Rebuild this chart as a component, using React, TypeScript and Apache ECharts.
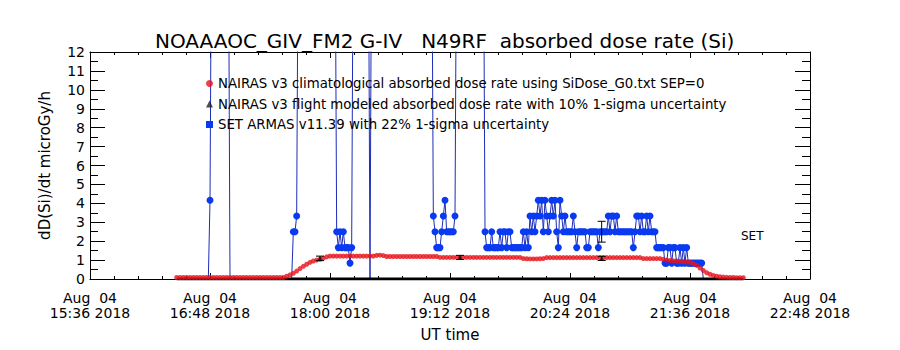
import { useEffect, useRef } from "react";
import * as echarts from "echarts";

const FONT = "DejaVu Sans";

const chartTitle = "NOAAAOC_GIV_FM2 G-IV\u00a0\u00a0\u00a0N49RF\u00a0\u00a0absorbed dose rate (Si)";
const yAxisName = "dD(Si)/dt microGy/h";
const xAxisName = "UT time";
const dateLine = "Aug\u00a0\u00a004";
const yearText = "2018";
const setLabel = "SET";

const xMinTime = "15:36";
const xMaxTime = "22:48";
const xStepMin = 72;
const yMin = 0;
const yMax = 12;
const yStep = 1;

const climName = "NAIRAS v3 climatological absorbed dose rate using SiDose_G0.txt SEP=0";
const flightName = "NAIRAS v3 flight modeled absorbed dose rate with 10% 1-sigma uncertainty";
const armasName = "SET ARMAS v11.39 with 22% 1-sigma uncertainty";

// NAIRAS climatological, sampled every 2 minutes from 16:28
const climStart = "16:28";
const climStepMin = 2;
const climDose = [
  0.08, 0.08, 0.08, 0.08, 0.08, 0.08, 0.08, 0.08, 0.08, 0.08, 0.08,
  0.08, 0.08, 0.08, 0.08, 0.08, 0.08, 0.08, 0.08, 0.08, 0.08, 0.08,
  0.08, 0.08, 0.08, 0.08, 0.08, 0.08, 0.08, 0.08, 0.08, 0.08, 0.08,
  0.15, 0.22, 0.3, 0.42, 0.55, 0.67, 0.78, 0.88, 0.95, 1.0, 1.05, 1.1, 1.17, 1.21,
  1.21, 1.21, 1.21, 1.21, 1.21, 1.21, 1.21, 1.21, 1.21, 1.21, 1.21, 1.21, 1.21,
  1.25, 1.26, 1.24,
  1.19, 1.19, 1.19, 1.19, 1.19, 1.19, 1.19, 1.19, 1.19, 1.19, 1.19, 1.19, 1.19, 1.19, 1.19, 1.19,
  1.14, 1.14, 1.14, 1.14, 1.14, 1.14, 1.14, 1.14, 1.14, 1.14, 1.14, 1.14, 1.14,
  1.14, 1.14, 1.14, 1.14, 1.14, 1.14, 1.14, 1.14, 1.14, 1.14, 1.14, 1.14,
  1.08, 1.07, 1.06, 1.06, 1.06, 1.07, 1.08,
  1.13, 1.13, 1.13, 1.13, 1.13, 1.13, 1.13, 1.13, 1.13, 1.13, 1.13, 1.13, 1.13, 1.13, 1.13,
  1.13, 1.13, 1.13, 1.13, 1.13, 1.13, 1.13, 1.13, 1.13, 1.13, 1.13, 1.13, 1.13, 1.13,
  1.08, 1.08, 1.08, 1.08, 1.08, 1.08,
  1.04, 1.0, 0.98, 0.96, 0.95, 0.93, 0.92, 0.9, 0.88, 0.82, 0.72, 0.58, 0.45, 0.33, 0.25, 0.19, 0.15, 0.12,
  0.1, 0.09, 0.08, 0.08, 0.07, 0.07, 0.07,
];

// NAIRAS flight modeled: zero along the flight, plus three evaluated points
const flightZeroSpan = ["16:28", "22:08"];
const flightZeroDose = [0, 0];
const flightTimes = ["17:54", "19:18", "20:43"];
const flightDose = [1.09, 1.14, 1.09];
const flightSigma = [0.12, 0.11, 0.11];

// SET ARMAS measurements (values above 12 run off the top of the plot)
const armas: [string, number][] = [
  ["16:47", 0], ["16:48", 4.16], ["16:49", 20], ["16:59", 20], ["17:00", 0],
  ["17:37", 0], ["17:38", 2.5], ["17:39", 2.5], ["17:40", 3.33], ["17:41", 20],
  ["18:03", 20], ["18:04", 2.5], ["18:05", 1.66], ["18:06", 2.5], ["18:07", 1.66], ["18:08", 2.5],
  ["18:09", 1.66], ["18:10", 1.66], ["18:11", 1.66], ["18:12", 0.84], ["18:13", 1.66], ["18:14", 20],
  ["18:23", 20], ["18:24", 0], ["18:25", 20],
  ["19:01", 20], ["19:02", 3.33], ["19:03", 2.5], ["19:04", 1.66], ["19:05", 1.66], ["19:06", 1.66],
  ["19:07", 2.5], ["19:08", 3.33], ["19:09", 4.16], ["19:10", 2.5], ["19:11", 2.5], ["19:12", 2.5],
  ["19:13", 2.5], ["19:14", 2.5], ["19:15", 3.33], ["19:16", 20],
  ["19:32", 20], ["19:33", 2.5], ["19:34", 1.66], ["19:35", 1.66], ["19:36", 1.66], ["19:37", 2.5],
  ["19:38", 1.66], ["19:39", 1.66], ["19:40", 1.66], ["19:41", 1.66], ["19:42", 2.5], ["19:43", 1.66],
  ["19:44", 2.5], ["19:45", 2.5], ["19:46", 1.66], ["19:47", 2.5], ["19:48", 2.5], ["19:49", 1.66],
  ["19:50", 1.66], ["19:51", 1.66], ["19:52", 1.66], ["19:53", 1.66], ["19:54", 1.66], ["19:55", 1.66],
  ["19:56", 2.5], ["19:57", 1.66], ["19:58", 2.5], ["19:59", 1.66], ["20:00", 3.33], ["20:01", 2.5],
  ["20:02", 3.33], ["20:03", 2.5], ["20:04", 3.33], ["20:05", 4.16], ["20:06", 3.33], ["20:07", 4.16],
  ["20:08", 2.5], ["20:09", 4.16], ["20:10", 3.33], ["20:11", 2.5], ["20:12", 3.33], ["20:13", 4.16],
  ["20:14", 3.33], ["20:15", 4.16], ["20:16", 2.5], ["20:17", 1.66], ["20:18", 4.16], ["20:19", 3.33],
  ["20:20", 2.5], ["20:21", 3.33], ["20:22", 2.5], ["20:23", 2.5], ["20:24", 2.5], ["20:25", 2.5],
  ["20:26", 3.33], ["20:27", 2.5], ["20:28", 1.66], ["20:29", 2.5], ["20:30", 2.5], ["20:31", 2.5],
  ["20:32", 2.5], ["20:33", 2.5], ["20:34", 1.66], ["20:35", 1.66], ["20:36", 2.5], ["20:37", 2.5],
  ["20:38", 2.5], ["20:39", 2.5], ["20:40", 2.5], ["20:41", 1.66], ["20:42", 2.5], ["20:43", 2.5],
  ["20:44", 2.5], ["20:45", 2.5], ["20:46", 2.5], ["20:47", 3.33], ["20:48", 2.5], ["20:49", 3.33],
  ["20:50", 3.33], ["20:51", 2.5], ["20:52", 3.33], ["20:53", 2.5], ["20:54", 2.5], ["20:55", 2.5],
  ["20:56", 2.5], ["20:57", 2.5], ["20:58", 2.5], ["20:59", 2.5], ["21:00", 2.5], ["21:01", 2.5],
  ["21:02", 1.66], ["21:03", 2.5], ["21:04", 3.33], ["21:05", 3.33], ["21:06", 2.5], ["21:07", 3.33],
  ["21:08", 2.5], ["21:09", 2.5], ["21:10", 3.33], ["21:11", 2.5], ["21:12", 3.33], ["21:13", 2.5],
  ["21:14", 2.5], ["21:15", 2.5], ["21:16", 1.66], ["21:17", 1.66], ["21:18", 1.66], ["21:19", 1.66],
  ["21:20", 1.66], ["21:21", 0.84], ["21:22", 0.84], ["21:23", 1.66], ["21:24", 1.66], ["21:25", 0.84],
  ["21:26", 1.66], ["21:27", 1.66], ["21:28", 0.84], ["21:29", 0.84], ["21:30", 1.66], ["21:31", 0.84],
  ["21:32", 1.66], ["21:33", 0.84], ["21:34", 1.66], ["21:35", 0.84], ["21:36", 0.84], ["21:37", 0.84],
  ["21:38", 0.84], ["21:39", 0.84], ["21:40", 0.84], ["21:41", 0.84], ["21:42", 0.84], ["21:43", 0.84],
  ["21:44", 0], ["21:56", 0],
];
const armasErrTimes = ["20:43"];
const armasErrDose = [2.5];
const armasErrSigma = [0.55];

const toMin = (s: string) => {
  const [h, m] = s.split(":").map(Number);
  return h * 60 + m;
};
const fmtTime = (v: number) => {
  const h = Math.floor(v / 60);
  const m = Math.round(v - h * 60);
  return `${String(h).padStart(2, "0")}:${String(m).padStart(2, "0")}`;
};

export default function App() {
  const ref = useRef<HTMLDivElement>(null);

  useEffect(() => {
    if (!ref.current) return;
    const chart = echarts.init(ref.current, null, { renderer: "svg" });

    const black = "#000";
    const xCommon = {
      type: "value" as const,
      min: toMin(xMinTime),
      max: toMin(xMaxTime),
      interval: xStepMin,
      axisLine: { show: true, onZero: false, lineStyle: { color: black, width: 1 } },
      axisTick: { show: true, inside: true, length: 6, lineStyle: { color: black } },
      minorTick: { show: true, splitNumber: 5, length: 3, lineStyle: { color: black } },
      splitLine: { show: false },
      minorSplitLine: { show: false },
    };
    const yCommon = {
      type: "value" as const,
      min: yMin,
      max: yMax,
      interval: yStep,
      axisLine: { show: true, lineStyle: { color: black, width: 1 } },
      axisTick: { show: true, inside: true, length: 15, lineStyle: { color: black } },
      minorTick: { show: true, splitNumber: 2, length: 8, lineStyle: { color: black } },
      splitLine: { show: false },
      minorSplitLine: { show: false },
    };

    const errRender = (params: any, api: any) => {
      const x = api.value(0);
      const v = api.value(1);
      const e = api.value(2);
      const top = api.coord([x, v + e]);
      const bot = api.coord([x, v - e]);
      const w = 4;
      const st = { stroke: black, lineWidth: 1 };
      return {
        type: "group",
        children: [
          { type: "line", shape: { x1: top[0], y1: top[1], x2: bot[0], y2: bot[1] }, style: st },
          { type: "line", shape: { x1: top[0] - w, y1: top[1], x2: top[0] + w, y2: top[1] }, style: st },
          { type: "line", shape: { x1: bot[0] - w, y1: bot[1], x2: bot[0] + w, y2: bot[1] }, style: st },
        ],
      };
    };

    chart.setOption({
      animation: false,
      backgroundColor: "#fff",
      title: {
        text: chartTitle,
        left: 150,
        top: 26,
        textStyle: { fontFamily: FONT, fontSize: 20, fontWeight: "normal", color: black },
      },
      legend: {
        left: 201,
        top: 71,
        orient: "vertical",
        itemWidth: 7,
        itemHeight: 7,
        itemGap: 5.5,
        selectedMode: false,
        textStyle: { fontFamily: FONT, fontSize: 13.3, color: black, lineHeight: 15 },
        data: [
          { name: climName, icon: "circle" },
          { name: flightName, icon: "triangle" },
          { name: armasName, icon: "rect" },
        ],
      },
      grid: { left: 90, right: 90, top: 52, bottom: 71 },
      xAxis: [
        {
          ...xCommon,
          position: "bottom",
          axisLabel: {
            show: true,
            margin: 11,
            fontFamily: FONT,
            fontSize: 14,
            lineHeight: 15,
            color: black,
            formatter: (v: number) => `${dateLine}\n${fmtTime(v)} ${yearText}`,
          },
          name: xAxisName,
          nameLocation: "middle",
          nameGap: 48,
          nameTextStyle: { fontFamily: FONT, fontSize: 15, color: black },
        },
        { ...xCommon, position: "top", axisLabel: { show: false } },
      ],
      yAxis: [
        {
          ...yCommon,
          position: "left",
          axisLabel: {
            show: true,
            showMinLabel: true,
            showMaxLabel: true,
            margin: 5,
            fontFamily: FONT,
            fontSize: 14,
            lineHeight: 16,
            color: black,
          },
          name: yAxisName,
          nameLocation: "middle",
          nameGap: 38,
          nameTextStyle: { fontFamily: FONT, fontSize: 15, color: black },
        },
        { ...yCommon, position: "right", axisLabel: { show: false } },
      ],
      graphic: [
        {
          type: "text",
          left: 741,
          top: 230,
          style: { text: setLabel, fontFamily: FONT, fontSize: 12, fill: black },
        },
      ],
      series: [
        {
          type: "line",
          name: armasName,
          data: armas.map(([t, v]) =>
            v === 0 ? { value: [toMin(t), v], symbol: "none" } : [toMin(t), v]
          ),
          symbol: "circle",
          symbolSize: 7,
          lineStyle: { color: "#1c2db8", width: 1 },
          itemStyle: { color: "#0a3af0" },
          clip: true,
          z: 2,
        },
        {
          type: "line",
          name: "flight-zero",
          data: flightZeroSpan.map((t, i) => [toMin(t), flightZeroDose[i]]),
          symbol: "none",
          lineStyle: { color: black, width: 3 },
          clip: true,
          z: 3,
        },
        {
          type: "scatter",
          name: climName,
          data: climDose.map((v, i) => [toMin(climStart) + i * climStepMin, v]),
          symbol: "circle",
          symbolSize: 5,
          itemStyle: { color: "#e8121a" },
          z: 4,
        },
        {
          type: "scatter",
          name: flightName,
          data: flightTimes.map((t, i) => [toMin(t), flightDose[i]]),
          symbol: "triangle",
          symbolSize: 5,
          itemStyle: { color: "#222" },
          z: 5,
        },
        {
          type: "custom",
          name: "flight-err",
          renderItem: errRender,
          data: flightTimes.map((t, i) => [toMin(t), flightDose[i], flightSigma[i]]),
          encode: { x: 0, y: 1 },
          z: 6,
        },
        {
          type: "custom",
          name: "armas-err",
          renderItem: errRender,
          data: armasErrTimes.map((t, i) => [toMin(t), armasErrDose[i], armasErrSigma[i]]),
          encode: { x: 0, y: 1 },
          z: 6,
        },
      ],
    });

    return () => chart.dispose();
  }, []);

  return (
    <div
      ref={ref}
      style={{ position: "fixed", left: 0, top: 0, width: 900, height: 350, background: "#fff" }}
    />
  );
}
